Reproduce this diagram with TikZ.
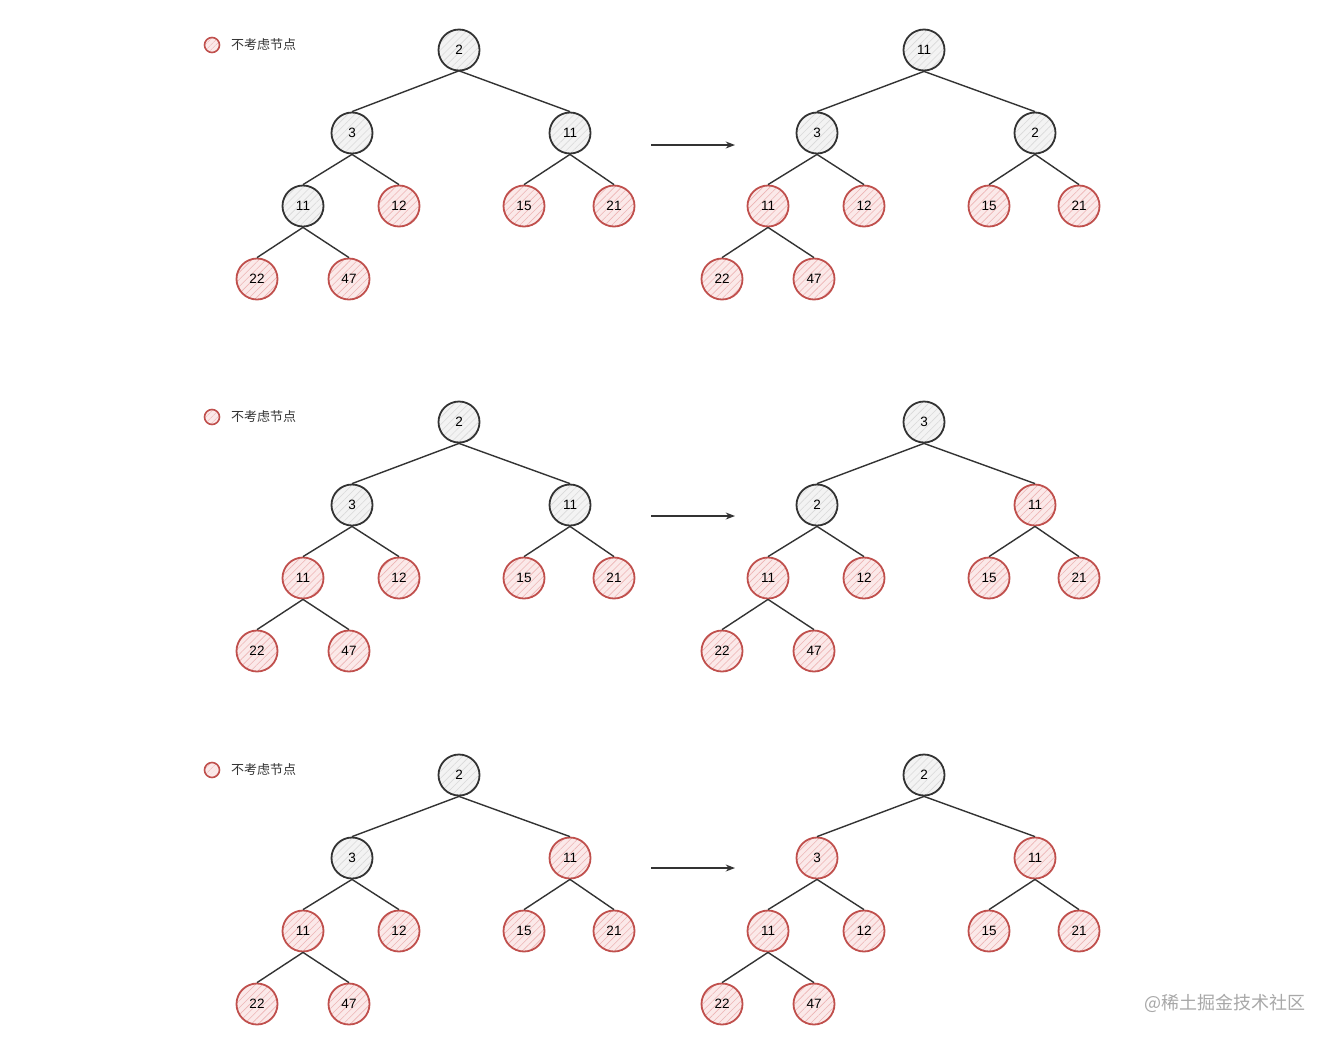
\documentclass[tikz,border=0pt]{standalone}
\usepackage{fontspec}
\setmainfont{Liberation Sans}
\newfontfamily\cjkfont{Noto Sans CJK SC}
\usepackage{xcolor}
\usepackage{tikz}
\usetikzlibrary{arrows.meta,patterns.meta}
\definecolor{inkgray}{HTML}{333333}
\definecolor{keepfill}{HTML}{F3F3F3}
\definecolor{keephatch}{HTML}{D9D9D9}
\definecolor{skipred}{HTML}{C0504D}
\definecolor{skipfill}{HTML}{FBE9E9}
\definecolor{skiphatch}{HTML}{EDB4B4}
\definecolor{markgray}{HTML}{A8A8A8}

\tikzset{
  heapnode/.style={circle,minimum size=41pt,inner sep=0pt,line width=1.8pt,
    font=\fontsize{13.5}{13.5}\selectfont},
  keep/.style={heapnode,draw=inkgray,preaction={fill=keepfill},
    pattern={Lines[angle=45,distance=5pt,line width=.6pt]},pattern color=keephatch},
  skip/.style={heapnode,draw=skipred,preaction={fill=skipfill},
    pattern={Lines[angle=45,distance=5pt,line width=.6pt]},pattern color=skiphatch},
  edge/.style={inkgray,line width=1.4pt},
}

% #1 name, #2/#3 root position, #4 slot/label/style of the nine slots
\newcommand{\heaptree}[4]{%
  \foreach \s/\dx/\dy in {r/0/0,a/-107/83,b/111/83,c/-156/156,d/-60/156,
      e/65/156,f/155/156,g/-202/229,h/-110/229}
    \coordinate (#1-\s) at (#2+\dx,#3+\dy);
  \foreach \s/\lab/\st in {#4}
    \node[\st] (#1\s) at (#1-\s) {\lab};
  \foreach \p/\c in {r/a,r/b,a/c,a/d,b/e,b/f,c/g,c/h}
    \draw[edge] (#1\p.south) -- (#1\c.north);
}

\begin{document}
\begin{tikzpicture}[x=1pt,y=-1pt,>=Stealth]
  \useasboundingbox[fill=white] (0,0) rectangle (1333,1042);

  % legends
  \foreach \y [count=\i] in {45,417,770} {
    \node[circle,minimum size=15pt,inner sep=0pt,line width=1.6pt,draw=skipred,
      preaction={fill=skipfill},pattern={Lines[angle=45,distance=4pt,line width=.6pt]},
      pattern color=skiphatch] (legend\i) at (212,\y) {};
    \node[anchor=west,inner sep=0pt,font=\cjkfont\fontsize{13}{13}\selectfont,text=inkgray]
      (legendtext\i) at (231,\y) {不考虑节点};
  }

  % row 1
  \heaptree{ua}{459}{50}{r/2/keep,a/3/keep,b/11/keep,c/11/keep,d/12/skip,
    e/15/skip,f/21/skip,g/22/skip,h/47/skip}
  \heaptree{ub}{924}{50}{r/11/keep,a/3/keep,b/2/keep,c/11/skip,d/12/skip,
    e/15/skip,f/21/skip,g/22/skip,h/47/skip}

  % row 2
  \heaptree{ma}{459}{422}{r/2/keep,a/3/keep,b/11/keep,c/11/skip,d/12/skip,
    e/15/skip,f/21/skip,g/22/skip,h/47/skip}
  \heaptree{mb}{924}{422}{r/3/keep,a/2/keep,b/11/skip,c/11/skip,d/12/skip,
    e/15/skip,f/21/skip,g/22/skip,h/47/skip}

  % row 3
  \heaptree{la}{459}{775}{r/2/keep,a/3/keep,b/11/skip,c/11/skip,d/12/skip,
    e/15/skip,f/21/skip,g/22/skip,h/47/skip}
  \heaptree{lb}{924}{775}{r/2/keep,a/3/skip,b/11/skip,c/11/skip,d/12/skip,
    e/15/skip,f/21/skip,g/22/skip,h/47/skip}

  % arrows between the trees
  \foreach \y/\n in {145/u,516/m,868/l} {
    \coordinate (\n from) at (651,\y);
    \coordinate (\n to) at (735,\y);
    \draw[->,inkgray,line width=1.4pt] (\n from) -- (\n to);
  }

  \node[font=\cjkfont\fontsize{18}{18}\selectfont,text=markgray] (mark)
    at (1225,1003) {@稀土掘金技术社区};
\end{tikzpicture}
\end{document}
